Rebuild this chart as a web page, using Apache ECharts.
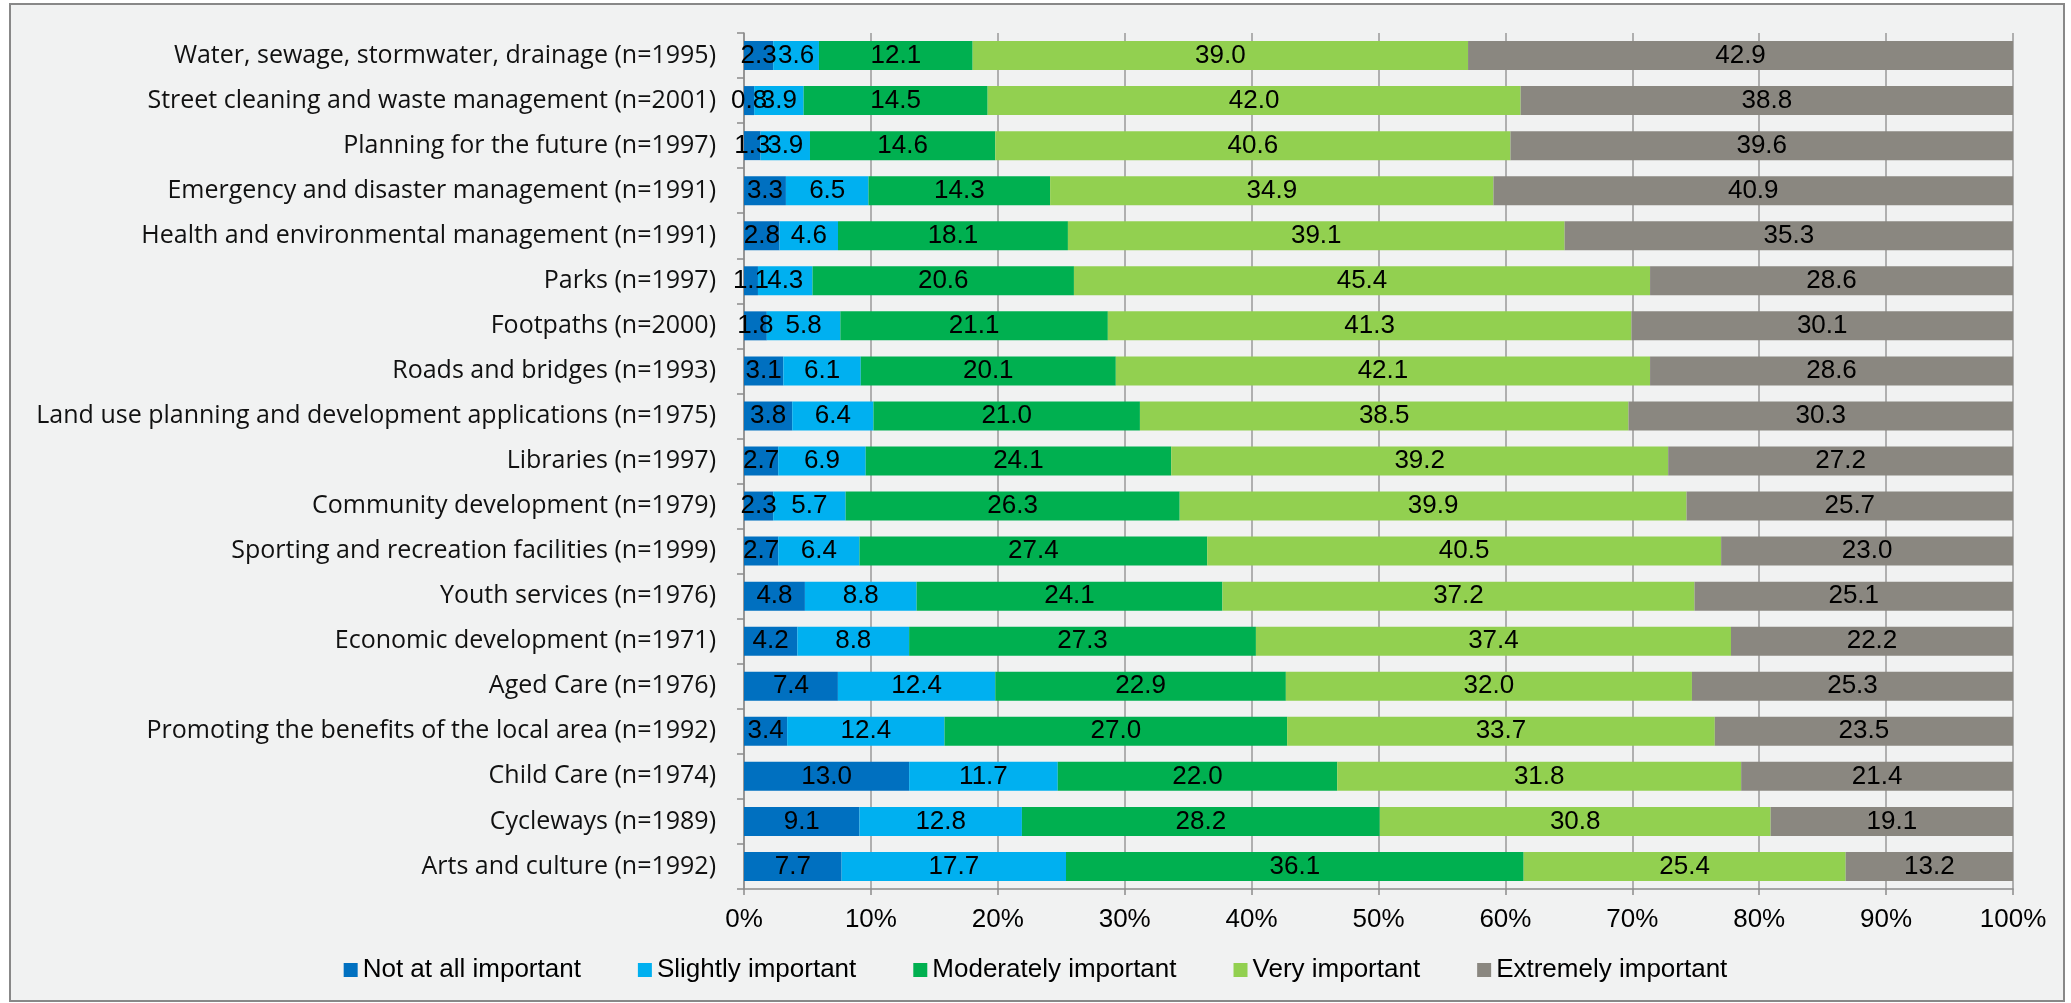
<!DOCTYPE html>
<html>
<head>
<meta charset="utf-8">
<script src="https://cdn.jsdelivr.net/npm/echarts@6/dist/echarts.min.js"></script>
<style>
html,body{margin:0;padding:0;background:#ffffff;}
#chart{width:2071px;height:1003px;}
</style>
</head>
<body>
<div id="chart"></div>
<script>
const categories = [
  "Water, sewage, stormwater, drainage (n=1995)",
  "Street cleaning and waste management (n=2001)",
  "Planning for the future (n=1997)",
  "Emergency and disaster management (n=1991)",
  "Health and environmental management (n=1991)",
  "Parks (n=1997)",
  "Footpaths (n=2000)",
  "Roads and bridges (n=1993)",
  "Land use planning and development applications (n=1975)",
  "Libraries (n=1997)",
  "Community development (n=1979)",
  "Sporting and recreation facilities (n=1999)",
  "Youth services (n=1976)",
  "Economic development (n=1971)",
  "Aged Care (n=1976)",
  "Promoting the benefits of the local area (n=1992)",
  "Child Care (n=1974)",
  "Cycleways (n=1989)",
  "Arts and culture (n=1992)"
];
const notAtAll   = [2.3, 0.8, 1.3, 3.3, 2.8, 1.1, 1.8, 3.1, 3.8, 2.7, 2.3, 2.7, 4.8, 4.2, 7.4, 3.4, 13.0, 9.1, 7.7];
const slightly   = [3.6, 3.9, 3.9, 6.5, 4.6, 4.3, 5.8, 6.1, 6.4, 6.9, 5.7, 6.4, 8.8, 8.8, 12.4, 12.4, 11.7, 12.8, 17.7];
const moderately = [12.1, 14.5, 14.6, 14.3, 18.1, 20.6, 21.1, 20.1, 21.0, 24.1, 26.3, 27.4, 24.1, 27.3, 22.9, 27.0, 22.0, 28.2, 36.1];
const very       = [39.0, 42.0, 40.6, 34.9, 39.1, 45.4, 41.3, 42.1, 38.5, 39.2, 39.9, 40.5, 37.2, 37.4, 32.0, 33.7, 31.8, 30.8, 25.4];
const extremely  = [42.9, 38.8, 39.6, 40.9, 35.3, 28.6, 30.1, 28.6, 30.3, 27.2, 25.7, 23.0, 25.1, 22.2, 25.3, 23.5, 21.4, 19.1, 13.2];
const seriesNames = ["Not at all important", "Slightly important", "Moderately important", "Very important", "Extremely important"];
const xTickLabels = ["0%","10%","20%","30%","40%","50%","60%","70%","80%","90%","100%"];

const colors = ["#0070c0", "#00b0f0", "#00b050", "#92d050", "#8a8780"];
const allSeries = [notAtAll, slightly, moderately, very, extremely];
const rowSums = categories.map((_, i) => allSeries.reduce((s, a) => s + a[i], 0));

const chart = echarts.init(document.getElementById('chart'));
const labelFont = "'Liberation Sans', Arial, sans-serif";
chart.setOption({
  backgroundColor: '#ffffff',
  animation: false,
  color: colors,
  graphic: [{
    type: 'rect', z: -10, silent: true,
    shape: {x: 10, y: 4, width: 2054, height: 997},
    style: {fill: '#f1f2f2', stroke: '#888888', lineWidth: 2}
  }],
  grid: {left: 744, right: 58, top: 33, bottom: 114, containLabel: false},
  legend: {
    top: 952, left: 'center',
    itemWidth: 14, itemHeight: 14, itemGap: 57,
    icon: 'rect',
    textStyle: {fontFamily: labelFont, fontSize: 26, color: '#000'},
    data: seriesNames
  },
  xAxis: {
    type: 'value', min: 0, max: 100, interval: 10,
    axisLine: {show: true, lineStyle: {color: '#8c8c8c', width: 1.5}},
    axisTick: {show: true, length: 6, lineStyle: {color: '#8c8c8c', width: 1.5}},
    splitLine: {show: true, lineStyle: {color: '#999999', width: 1.5}},
    axisLabel: {
      margin: 18, fontFamily: labelFont, fontSize: 26, color: '#000',
      formatter: (v) => xTickLabels[Math.round(v / 10)]
    }
  },
  yAxis: {
    type: 'category', inverse: true, data: categories,
    axisLine: {show: true, lineStyle: {color: '#8c8c8c', width: 1.5}},
    axisTick: {show: true, length: 7, lineStyle: {color: '#8c8c8c', width: 1.5}},
    axisLabel: {margin: 28, fontFamily: "'Open Sans', sans-serif", fontSize: 25, color: '#111'}
  },
  series: seriesNames.map((name, k) => ({
    name: name, type: 'bar', stack: 'total', barWidth: 29,
    data: allSeries[k].map((v, i) => ({value: v / rowSums[i] * 100, raw: v})),
    itemStyle: {color: colors[k]},
    label: {
      show: true, position: 'inside', color: '#000',
      fontFamily: labelFont, fontSize: 26,
      formatter: (p) => p.data.raw.toFixed(1)
    }
  }))
});
</script>
</body>
</html>
